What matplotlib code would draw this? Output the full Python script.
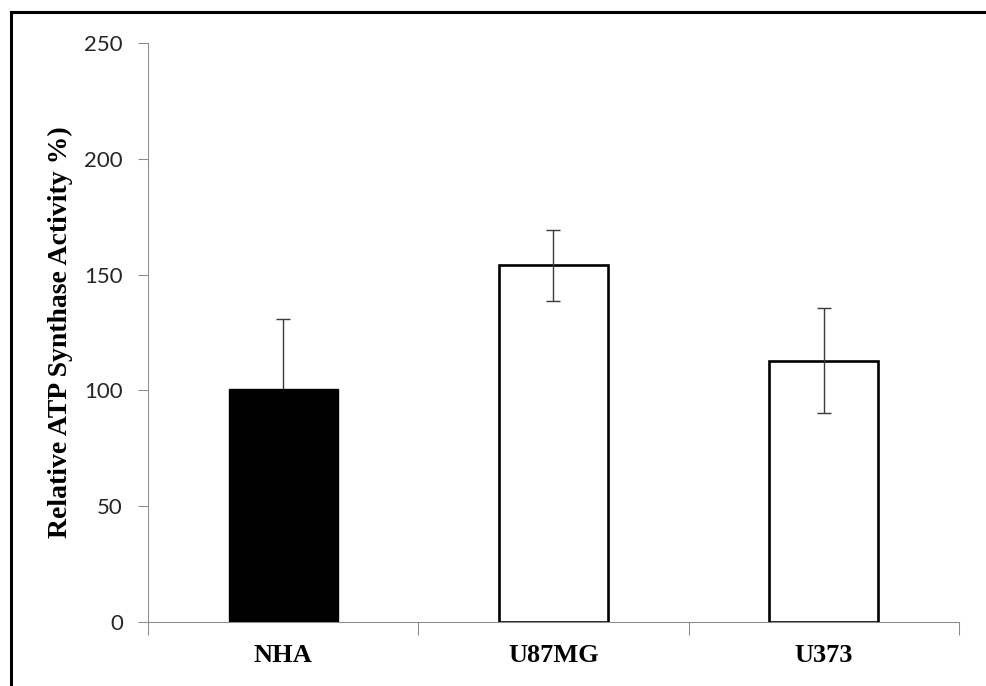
import numpy as np
import matplotlib
matplotlib.use('Agg')
import matplotlib.pyplot as plt
from matplotlib.lines import Line2D

# data
categories = ['NHA', 'U87MG', 'U373']
activity = [100.5, 154.0, 112.8]
errors = [30.5, 15.4, 22.6]
fill_colors = ['black', 'white', 'white']

fig = plt.figure(figsize=(9.86, 6.86), dpi=100)
ax = fig.add_axes([0.1501, 0.0933, 0.8225, 0.8440])

x = np.arange(len(categories))
ax.bar(x, activity, width=0.403, color=fill_colors, edgecolor='black',
       linewidth=[1.0, 1.9, 1.9], zorder=2)
# the error bar of the black bar sits behind it, the others in front
for i in range(len(categories)):
    z = 1 if fill_colors[i] == 'black' else 3
    ax.errorbar(x[i], activity[i], yerr=errors[i], fmt='none', ecolor='#3a3a3a',
                elinewidth=1.0, capsize=5.2, capthick=1.0, zorder=z)

ax.set_xlim(-0.5, 2.5)
ax.set_ylim(0, 250)
ax.set_yticks(np.arange(0, 251, 50))
ax.set_xticks(x)
ax.set_xticklabels(categories, fontfamily='Liberation Serif', fontweight='bold', fontsize=19)
ax.set_xticks([-0.5, 0.5, 1.5, 2.5], minor=True)
ax.tick_params(axis='x', which='major', length=0, pad=16)
ax.tick_params(axis='x', which='minor', length=9, width=0.75, color='#8c8c8c', direction='out')
ax.tick_params(axis='y', length=7, width=0.75, color='#8c8c8c', direction='out', pad=11)
for lab in ax.get_yticklabels():
    lab.set_fontfamily('Lato')
    lab.set_fontsize(16)
    lab.set_color('#262626')

for side in ['top', 'right']:
    ax.spines[side].set_visible(False)
for side in ['left', 'bottom']:
    ax.spines[side].set_color('#8c8c8c')
    ax.spines[side].set_linewidth(0.75)

ax.set_ylabel('Relative ATP Synthase Activity %)', fontfamily='Liberation Serif',
              fontweight='bold', fontsize=20, labelpad=8)

# frame lines visible at top and left of the picture
fig.add_artist(Line2D([11 / 986, 1.0], [1 - 12 / 686, 1 - 12 / 686], transform=fig.transFigure,
                      color='black', linewidth=2.2))
fig.add_artist(Line2D([11 / 986, 11 / 986], [0.0, 1 - 12 / 686], transform=fig.transFigure,
                      color='black', linewidth=2.2))

fig.savefig('out.png', dpi=100)
